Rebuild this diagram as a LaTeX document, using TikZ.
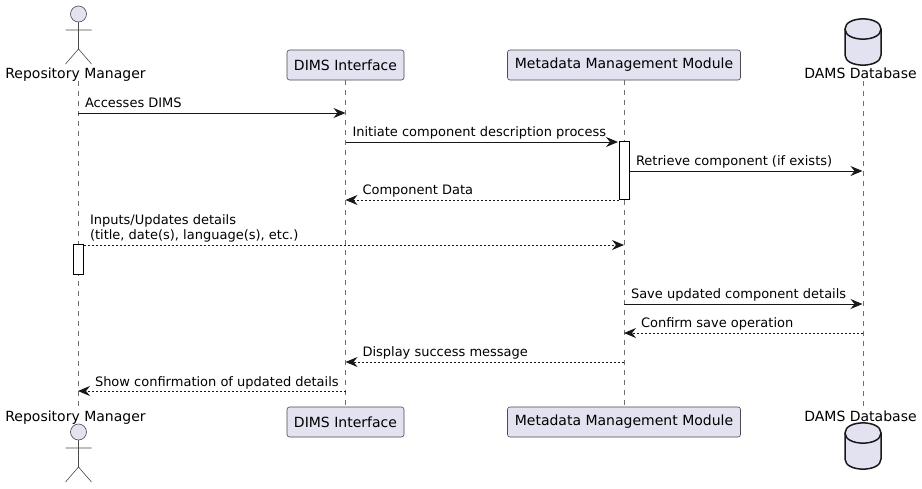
\documentclass[tikz,border=0pt]{standalone}
\usepackage{fontspec}
\setmainfont{DejaVu Sans}
\usetikzlibrary{arrows.meta,calc}
\definecolor{pfill}{HTML}{E2E2F0}
\definecolor{pline}{HTML}{181818}
\definecolor{thinline}{HTML}{4A4A4A}
\definecolor{lifegray}{HTML}{707070}
\tikzset{
  x=1pt,y=-1pt,
  every node/.style={font=\fontsize{13pt}{15.5pt}\selectfont,text=black,inner sep=0pt,outer sep=0pt},
  partlabel/.style={font=\fontsize{14pt}{16pt}\selectfont},
  partbox/.style={partlabel,draw=thinline,fill=pfill,line width=0.6pt,rounded corners=2.5pt,minimum height=30pt,anchor=center},
  lifeline/.style={draw=lifegray,line width=0.5pt,dash pattern=on 5pt off 5pt},
  stick/.style={draw=thinline,line width=0.6pt},
  syncmsg/.style={draw=pline,line width=1pt,-{Stealth[length=12pt,width=10pt,inset=4pt]}},
  retmsg/.style={syncmsg,dash pattern=on 2pt off 2pt},
  actbox/.style={draw=black,fill=white,line width=1pt},
  msglabel/.style={anchor=base west},
  dbshape/.style={draw=pline,fill=pfill,line width=1.5pt}
}
\newcommand{\stickman}[2]{%
  \draw[stick,fill=pfill] (#1,#2) circle (8);
  \draw[stick] (#1,#2+8) -- (#1,#2+35) (#1-13,#2+16) -- (#1+13,#2+16)
    (#1-13,#2+50) -- (#1,#2+35) -- (#1+13,#2+50);}
\newcommand{\dbcan}[2]{%
  \draw[dbshape] (#1-18,#2+10) .. controls (#1-18,#2-3.5) and (#1+18,#2-3.5) .. (#1+18,#2+10)
    -- (#1+18,#2+36) .. controls (#1+18,#2+49.5) and (#1-18,#2+49.5) .. (#1-18,#2+36) -- cycle;
  \draw[dbshape,fill=none] (#1-18,#2+10) .. controls (#1-18,#2+23.5) and (#1+18,#2+23.5) .. (#1+18,#2+10);}
\begin{document}
\begin{tikzpicture}
\useasboundingbox (0,0) rectangle (922,488);
% participants
\node[partlabel,anchor=base] (rmT) at (75.5,78) {Repository Manager};
\node[partlabel,anchor=base] (rmB) at (75.5,421) {Repository Manager};
\node[partlabel,anchor=base] (dbT) at (860.5,78) {DAMS Database};
\node[partlabel,anchor=base] (dbB) at (860.5,421) {DAMS Database};
\coordinate (rmTop) at (78,81); \coordinate (rmBot) at (78,407);
\coordinate (dbTop) at (863,81); \coordinate (dbBot) at (863,407);
\path[lifeline] (rmTop) -- (rmBot);
\node[partbox,minimum width=117pt] (diT) at (345.5,65) {DIMS Interface};
\node[partbox,minimum width=117pt] (diB) at (345.5,422) {DIMS Interface};
\node[partbox,minimum width=233pt] (mmT) at (624,65) {Metadata Management Module};
\node[partbox,minimum width=233pt] (mmB) at (624,422) {Metadata Management Module};
\path[lifeline] (diT) -- (diB);
\path[lifeline] (mmT) -- (mmB);
\path[lifeline] (dbTop) -- (dbBot);
\stickman{78.5}{14}
\stickman{78.5}{432}
\dbcan{863}{19}
\dbcan{863}{423}
% activations
\node[actbox,minimum width=10pt,minimum height=58pt] (actM) at (624,170.5) {};
\node[actbox,minimum width=10pt,minimum height=30pt] (actR) at (78,259) {};
% message end points on the lifelines
\foreach \n/\y in {1/113,2/142,3/171,4/200,5/245,6/304,7/333,8/362,9/391}{
  \coordinate (r\n) at (78,\y);
  \coordinate (d\n) at (345.5,\y);
  \coordinate (m\n) at (624,\y);
  \coordinate (b\n) at (862.5,\y);
}
\path[syncmsg] (r1) -- (d1);
\path[syncmsg] (d2) -- ($(m2)+(-6,0)$);
\path[syncmsg] ($(m3)+(5.5,0)$) -- (b3);
\path[retmsg] ($(m4)+(-5.5,0)$) -- (d4);
\path[retmsg] ($(r5)+(5.5,0)$) -- (m5);
\path[syncmsg] (m6) -- (b6);
\path[retmsg] (b7) -- (m7);
\path[retmsg] (m8) -- (d8);
\path[retmsg] (d9) -- (r9);
% labels
\node[msglabel] (l1) at (85,107) {Accesses DIMS};
\node[msglabel] (l2) at (352.5,136) {Initiate component description process};
\node[msglabel] (l3) at (636,165) {Retrieve component (if exists)};
\node[msglabel] (l4) at (362.5,194.5) {Component Data};
\node[msglabel] (l5a) at (90,224) {Inputs/Updates details};
\node[msglabel] (l5b) at (90,239) {(title, date(s), language(s), etc.)};
\node[msglabel] (l6) at (631,298) {Save updated component details};
\node[msglabel] (l7) at (641,327.5) {Confirm save operation};
\node[msglabel] (l8) at (362.5,356.5) {Display success message};
\node[msglabel] (l9) at (95,386) {Show confirmation of updated details};
\end{tikzpicture}
\end{document}
